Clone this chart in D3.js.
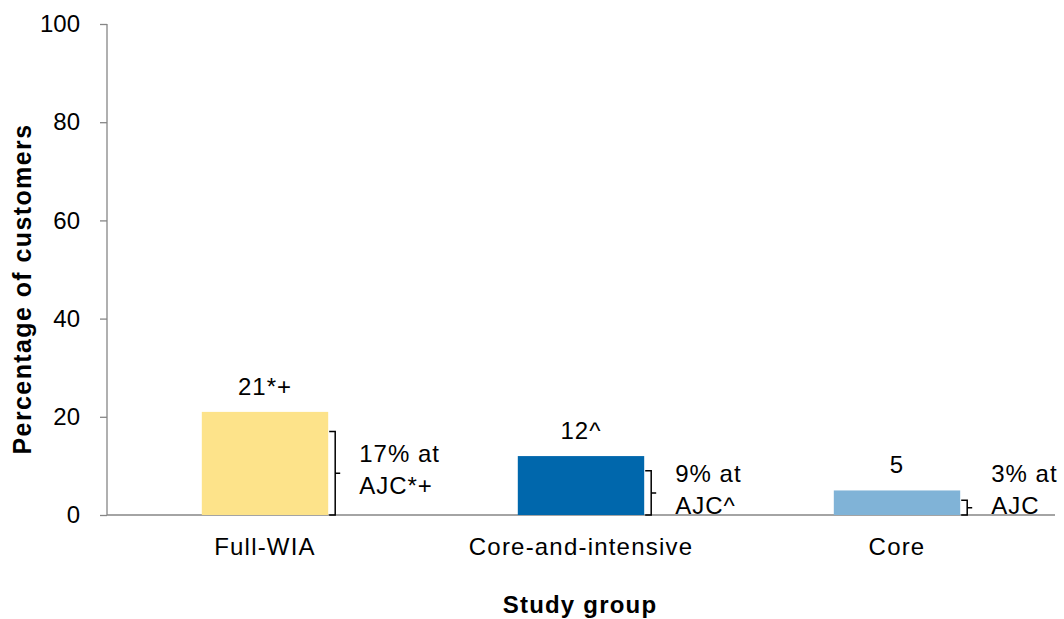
<!DOCTYPE html>
<html>
<head>
<meta charset="utf-8">
<script src="https://cdn.jsdelivr.net/npm/d3@7"></script>
<style>
  body { margin: 0; background: #fff; }
  svg text { font-family: "Liberation Sans", Arial, sans-serif; fill: #000; }
</style>
</head>
<body>
<svg id="chart" width="1064" height="619"></svg>
<script>
// Share of customers by study group, with share served at an AJC
const groups = ["Full-WIA", "Core-and-intensive", "Core"];
const totals = [21, 12, 5];
const totalLabels = ["21*+", "12^", "5"];
const ajcValues = [17, 9, 3];
const ajcLine1 = ["17% at", "9% at", "3% at"];
const ajcLine2 = ["AJC*+", "AJC^", "AJC"];
const colors = ["#FDE38A", "#0067AC", "#80B3D7"];
const yTicks = [0, 20, 40, 60, 80, 100];

const svg = d3.select("#chart");
const plotLeft = 107, plotRight = 1055, plotTop = 24, plotBottom = 515;
const FONT = "Liberation Sans, Arial, sans-serif";

const x = d3.scaleBand().domain(groups).range([plotLeft, plotRight]).paddingInner(0.6).paddingOuter(0.3);
const y = d3.scaleLinear().domain([0, 100]).range([plotBottom, plotTop]);

// axes
const axisColor = "#868686";
const yAxis = svg.append("g").attr("transform", `translate(${plotLeft},0)`)
  .call(d3.axisLeft(y).tickValues(yTicks).tickSize(7).tickPadding(20));
yAxis.select(".domain").attr("stroke", axisColor).attr("stroke-width", 1.3).attr("d", `M0,${plotBottom}V${plotTop}`);
yAxis.selectAll(".tick line").attr("stroke", axisColor).attr("stroke-width", 1.3);
yAxis.selectAll(".tick text").attr("font-size", 24).attr("font-family", FONT);

const xAxis = svg.append("g").attr("transform", `translate(0,${plotBottom})`)
  .call(d3.axisBottom(x).tickSize(0).tickPadding(23));
xAxis.select(".domain").attr("stroke", axisColor).attr("stroke-width", 1.3).attr("d", `M${plotLeft},0H${plotRight}`);
xAxis.selectAll(".tick text").attr("font-size", 24).attr("font-family", FONT)
  .attr("letter-spacing", 1.2);

// bars
svg.selectAll("rect.bar").data(groups).join("rect")
  .attr("class", "bar")
  .attr("x", d => x(d))
  .attr("width", x.bandwidth())
  .attr("y", (d, i) => y(totals[i]))
  .attr("height", (d, i) => y(0) - y(totals[i]))
  .attr("fill", (d, i) => colors[i]);

// value labels above bars
svg.selectAll("text.val").data(groups).join("text")
  .attr("class", "val")
  .attr("x", d => x(d) + x.bandwidth() / 2)
  .attr("y", (d, i) => y(totals[i]) - 17)
  .attr("text-anchor", "middle")
  .attr("font-size", 24)
  .attr("letter-spacing", 1)
  .text((d, i) => totalLabels[i]);

// braces spanning the AJC share, with a two-line note beside each
groups.forEach((g, i) => {
  const bx = x(g) + x.bandwidth();
  const y0 = y(0), y1 = y(ajcValues[i]);
  const ym = (y0 + y1) / 2;
  const vx = bx + 7;
  svg.append("path")
    .attr("d", `M${bx + 1},${y1}H${vx}V${y0}H${bx + 1}M${vx},${ym}H${vx + 5}`)
    .attr("fill", "none").attr("stroke", "#000").attr("stroke-width", 1.5);

  const ly = Math.min(ym, y0 - 22);
  const t = svg.append("text").attr("font-size", 24).attr("letter-spacing", 1);
  t.append("tspan").attr("x", bx + 31).attr("y", ly - 11).text(ajcLine1[i]);
  t.append("tspan").attr("x", bx + 31).attr("y", ly + 21).text(ajcLine2[i]);
});

// axis titles
svg.append("text")
  .attr("transform", `translate(31,289) rotate(-90)`)
  .attr("text-anchor", "middle")
  .attr("font-size", 25).attr("font-weight", "bold")
  .attr("letter-spacing", 1.4)
  .text("Percentage of customers");

svg.append("text")
  .attr("x", 580)
  .attr("y", 613)
  .attr("text-anchor", "middle")
  .attr("font-size", 24).attr("font-weight", "bold")
  .attr("letter-spacing", 1.2)
  .text("Study group");
</script>
</body>
</html>
